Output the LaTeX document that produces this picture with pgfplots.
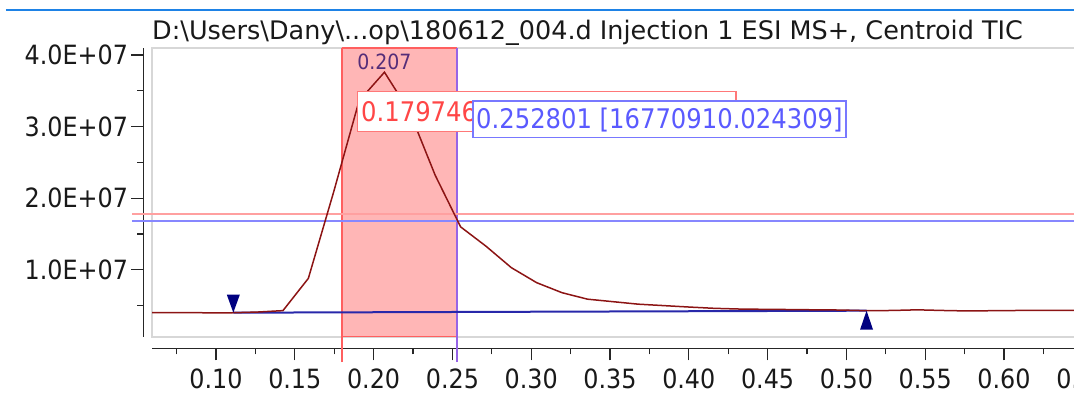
\documentclass[border=0pt]{standalone}
\usepackage{fontspec}
\setmainfont{DejaVu Sans Condensed}
\newfontfamily\titlefont{DejaVu Sans}
\usepackage{pgfplots}
\pgfplotsset{compat=1.18}

\definecolor{curvecol}{RGB}{140,20,20}
\definecolor{basecol}{RGB}{40,40,170}
\definecolor{tricol}{RGB}{0,0,128}
\definecolor{shade}{RGB}{255,182,182}
\definecolor{redcur}{RGB}{255,95,95}
\definecolor{bluecur}{RGB}{150,100,230}
\definecolor{redh}{RGB}{255,160,160}
\definecolor{blueh}{RGB}{135,135,255}
\definecolor{framecol}{RGB}{215,215,215}
\definecolor{topblue}{RGB}{30,130,230}
\definecolor{redtxt}{RGB}{255,70,70}
\definecolor{bluetxt}{RGB}{90,90,255}
\definecolor{peaktxt}{RGB}{85,45,120}
\definecolor{txt}{RGB}{25,25,25}
\definecolor{redbox}{RGB}{255,120,120}
\definecolor{bluebox}{RGB}{120,120,255}

\pgfdeclareplotmark{downtri}{%
  \pgfpathmoveto{\pgfpoint{-6.5bp}{18bp}}%
  \pgfpathlineto{\pgfpoint{6.5bp}{18bp}}%
  \pgfpathlineto{\pgfpoint{0bp}{0bp}}%
  \pgfpathclose\pgfusepathqfill}
\pgfdeclareplotmark{uptri}{%
  \pgfpathmoveto{\pgfpoint{-6.5bp}{-19bp}}%
  \pgfpathlineto{\pgfpoint{6.5bp}{-19bp}}%
  \pgfpathlineto{\pgfpoint{0bp}{0bp}}%
  \pgfpathclose\pgfusepathqfill}

\pgfplotstableread{
x y
0.0594 4010000
0.0781 4010000
0.0942 4000000
0.1103 4000000
0.1264 4100000
0.1425 4300000
0.1586 8800000
0.1747 20900000
0.1908 33600000
0.2069 37600000
0.2230 32000000
0.2391 23200000
0.2552 16000000
0.2713 13300000
0.2874 10300000
0.3035 8200000
0.3196 6800000
0.3357 5900000
0.3518 5550000
0.3679 5200000
0.3840 5000000
0.4001 4800000
0.4162 4620000
0.4323 4520000
0.4484 4480000
0.4645 4450000
0.4806 4410000
0.4967 4380000
0.5128 4290000
0.5289 4320000
0.5450 4410000
0.5611 4320000
0.5772 4250000
0.5933 4290000
0.6094 4320000
0.6255 4320000
0.6416 4340000
0.6577 4340000
0.6700 4340000
}\tic

\begin{document}
\begin{tikzpicture}[x=1bp,y=1bp]
\begin{axis}[
  at={(0,0)}, anchor=south west,
  scale only axis, width=962.3bp, height=288.5bp,
  xmin=0.0594, xmax=0.67, ymin=684000, ymax=40980000,
  axis lines=left, axis line style={-, line width=1.4bp, color=black!85},
  axis x line shift=11.8bp, axis y line shift=8.5bp,
  clip=false,
  tick align=outside,
  major tick length=12bp, minor tick length=6bp,
  tick style={black!85, line width=1.2bp},
  xtick={0.1,0.15,0.2,0.25,0.3,0.35,0.4,0.45,0.5,0.55,0.6,0.65},
  xticklabels={0.10,0.15,0.20,0.25,0.30,0.35,0.40,0.45,0.50,0.55,0.60,0.65},
  minor xtick={0.075,0.125,0.175,0.225,0.275,0.325,0.375,0.425,0.475,0.525,0.575,0.625},
  ytick={10000000,20000000,30000000,40000000},
  yticklabels={1.0E+07,2.0E+07,3.0E+07,4.0E+07},
  minor ytick={5000000,15000000,25000000,35000000},
  scaled x ticks=false, scaled y ticks=false,
  tick label style={font=\fontsize{26.5bp}{30bp}\selectfont, text=txt},
  xticklabel style={yshift=-5bp},
]
\coordinate (SW) at (rel axis cs:0,0);
\draw[framecol, line width=2bp] (rel axis cs:1,0) -- (rel axis cs:0,0) -- (rel axis cs:0,1) -- (rel axis cs:1,1);
\addplot[draw=none, fill=shade] coordinates {(0.179746,684000) (0.252801,684000) (0.252801,40980000) (0.179746,40980000)} -- cycle;
\addplot[redcur, line width=1.5bp] coordinates {(0.179746,40980000) (0.252801,40980000)};
\addplot[redcur, line width=1.5bp] coordinates {(0.179746,684000) (0.252801,684000)};
\addplot[redcur, line width=2bp] coordinates {(0.179746,-2880000) (0.179746,40980000)};
\addplot[bluecur, line width=2bp] coordinates {(0.252801,-2880000) (0.252801,40980000)};
\addplot[redh, line width=2bp] coordinates {(0.0467,17750000) (0.67,17750000)};
\addplot[blueh, line width=2bp] coordinates {(0.0467,16770910) (0.67,16770910)};
\addplot[basecol, line width=2bp] coordinates {(0.111,4010000) (0.5128,4290000)};
\addplot[curvecol, line width=1.5bp] table[x=x,y=y] {\tic};
\addplot[only marks, mark=downtri, color=tricol] coordinates {(0.111,4010000)};
\addplot[only marks, mark=uptri, color=tricol] coordinates {(0.5128,4290000)};
\node[text=peaktxt, font=\fontsize{21bp}{24bp}\selectfont, inner sep=0] at (axis cs:0.2069,39090000) {0.207};
\end{axis}
\begin{scope}[shift={(SW)}, xshift=-152bp, yshift=-63.5bp]
\draw[topblue, line width=2bp] (6,390) -- (1074,390);
\node[anchor=base west, inner sep=0, text=txt, font=\titlefont\fontsize{25.5bp}{29bp}\selectfont] at (152,360.7)
  {D:\textbackslash Users\textbackslash Dany\textbackslash ...op\textbackslash 180612\_004.d Injection 1 ESI MS+, Centroid TIC};
\draw[fill=white, draw=redbox, line width=1.5bp] (357.5,268.3) rectangle (736,308.3);
\node[anchor=base west, inner sep=0, text=redtxt, font=\fontsize{27bp}{31bp}\selectfont] at (361,278.5) {0.179746};
\draw[fill=white, draw=bluebox, line width=1.5bp] (473,262.5) rectangle (846,299);
\node[anchor=base west, inner sep=0, text=bluetxt, font=\fontsize{27bp}{31bp}\selectfont] at (476,271.5) {0.252801 [16770910.024309]};
\pgfresetboundingbox
\useasboundingbox (0,0) rectangle (1074,400);
\end{scope}
\end{tikzpicture}
\end{document}
